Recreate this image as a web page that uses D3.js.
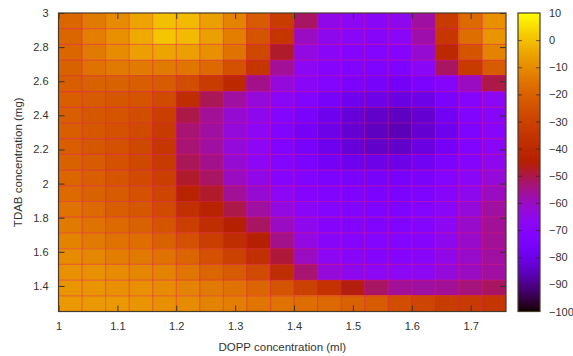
<!DOCTYPE html>
<html><head><meta charset="utf-8">
<script src="https://cdn.jsdelivr.net/npm/d3@7"></script>
<style>body{margin:0;background:#fff} text{font-family:"Liberation Sans",Arial,Helvetica,sans-serif;}</style>
</head><body><svg id="c" width="573" height="356"></svg>
<script>
// DOPP concentration (ml): cell centres, left to right
const doppValues = [1.02,1.06,1.10,1.14,1.18,1.22,1.26,1.30,1.34,1.38,1.42,1.46,1.50,1.54,1.58,1.62,1.66,1.70,1.74];
// TDAB concentration (mg): cell centres, top to bottom
const tdabValues = [2.954,2.862,2.770,2.678,2.586,2.493,2.401,2.309,2.217,2.125,2.033,1.941,1.849,1.757,1.664,1.572,1.480,1.388,1.296];
// values, one row per TDAB value (top row first), one column per DOPP value
const zRows = [
  [-19,-14,-10,-5,0,-1,-6,-12,-22,-32,-52,-65,-67,-68,-66,-57,-33,-18,-9],
  [-19,-13,-9,-4,1,-1,-6,-13,-24,-35,-60,-66,-68,-69,-68,-58,-34,-17,-8],
  [-19,-14,-10,-6,-5,-6,-9,-16,-28,-48,-64,-68,-70,-71,-70,-62,-40,-24,-12],
  [-20,-16,-14,-14,-14,-15,-18,-25,-35,-56,-67,-70,-72,-73,-73,-68,-52,-33,-22],
  [-21,-20,-20,-21,-22,-26,-32,-40,-55,-63,-68,-71,-74,-76,-77,-74,-70,-60,-50],
  [-21,-22,-23,-24,-27,-38,-51,-57,-63,-68,-72,-76,-79,-80,-81,-80,-75,-70,-67],
  [-21,-23,-24,-26,-31,-50,-56,-62,-66,-71,-75,-79,-82,-84,-85,-83,-78,-72,-69],
  [-21,-23,-25,-27,-33,-53,-57,-63,-67,-72,-77,-80,-83,-85,-86,-83,-79,-73,-69],
  [-21,-23,-25,-28,-34,-53,-57,-63,-67,-72,-76,-79,-82,-84,-84,-81,-77,-72,-68],
  [-20,-22,-25,-28,-33,-51,-55,-62,-67,-71,-74,-77,-79,-80,-80,-78,-74,-70,-66],
  [-19,-21,-24,-27,-31,-48,-52,-60,-65,-70,-72,-74,-75,-76,-76,-75,-71,-68,-63],
  [-18,-20,-22,-25,-29,-43,-48,-56,-62,-67,-70,-72,-73,-74,-74,-73,-69,-66,-60],
  [-16,-18,-21,-23,-27,-37,-43,-50,-57,-64,-68,-71,-72,-73,-73,-71,-68,-63,-57],
  [-14,-16,-18,-20,-24,-31,-38,-45,-52,-60,-66,-70,-71,-72,-72,-71,-67,-61,-56],
  [-12,-14,-16,-17,-20,-25,-31,-38,-45,-55,-64,-69,-70,-71,-71,-70,-66,-61,-56],
  [-10,-11,-13,-14,-16,-19,-25,-30,-37,-49,-60,-67,-69,-70,-70,-69,-65,-61,-57],
  [-9,-9,-10,-11,-12,-15,-19,-22,-27,-38,-53,-63,-66,-67,-67,-67,-63,-60,-57],
  [-8,-8,-9,-9,-10,-12,-14,-16,-19,-24,-30,-36,-46,-52,-56,-57,-56,-54,-52],
  [-7,-7,-7,-8,-9,-10,-12,-13,-15,-16,-17,-18,-20,-22,-26,-29,-32,-33,-35]
];
const xTicks = [1,1.1,1.2,1.3,1.4,1.5,1.6,1.7];
const yTicks = [1.4,1.6,1.8,2,2.2,2.4,2.6,2.8,3];
const cbTicks = [10,0,-10,-20,-30,-40,-50,-60,-70,-80,-90,-100];

const svg = d3.select("#c");
const P = {left:58.5, right:506, top:13, bottom:311.5};
const xDom = [1,1.76], yDom = [1.25,3];
const x = d3.scaleLinear().domain(xDom).range([P.left,P.right]);
const y = d3.scaleLinear().domain(yDom).range([P.bottom,P.top]);
const norm = d3.scaleLinear().domain([-100,10]).range([0,1]).clamp(true);
function pal(t){
  const r=Math.sqrt(t), g=t*t*t, b=Math.max(0,Math.sin(2*Math.PI*t));
  return d3.rgb(r*255,g*255,b*255).toString();
}
const color = v => pal(norm(v));
// cell edges: midpoints between neighbouring centres, outer edges at the domain limits
function edges(c, lo, hi){
  const s = c.slice().sort((a,b)=>a-b);
  const e = [lo];
  for(let i=1;i<s.length;i++) e.push((s[i-1]+s[i])/2);
  e.push(hi);
  return {sorted:s, e};
}
const xe = edges(doppValues, xDom[0], xDom[1]);
const ye = edges(tdabValues, yDom[0], yDom[1]);
const xLo = v => xe.e[xe.sorted.indexOf(v)], xHi = v => xe.e[xe.sorted.indexOf(v)+1];
const yLo = v => ye.e[ye.sorted.indexOf(v)], yHi = v => ye.e[ye.sorted.indexOf(v)+1];

const cells = [];
zRows.forEach((row,i)=>row.forEach((v,j)=>cells.push({xv:doppValues[j], yv:tdabValues[i], v})));

const g = svg.append("g");
g.selectAll("rect.cell").data(cells).join("rect").attr("class","cell")
  .attr("x", d=>Math.floor(x(xLo(d.xv)))).attr("y", d=>Math.floor(y(yHi(d.yv))))
  .attr("width", d=>Math.ceil(x(xHi(d.xv)))-Math.floor(x(xLo(d.xv))))
  .attr("height", d=>Math.ceil(y(yLo(d.yv)))-Math.floor(y(yHi(d.yv))))
  .attr("fill", d=>color(d.v)).attr("shape-rendering","crispEdges");

// faint cell seams
const seam = "rgba(230,25,110,0.38)";
g.selectAll("line.vs").data(xe.e.slice(1,-1)).join("line").attr("class","vs")
  .attr("x1",d=>x(d)).attr("x2",d=>x(d)).attr("y1",P.top).attr("y2",P.bottom)
  .attr("stroke",seam).attr("stroke-width",1.2);
g.selectAll("line.hs").data(ye.e.slice(1,-1)).join("line").attr("class","hs")
  .attr("y1",d=>y(d)).attr("y2",d=>y(d)).attr("x1",P.left).attr("x2",P.right)
  .attr("stroke",seam).attr("stroke-width",1.2);

// axes
const tc = "#3a3030";
const fmt = d3.format("~g");
const ax = svg.append("g").attr("transform",`translate(0,${P.bottom})`)
  .call(d3.axisBottom(x).tickValues(xTicks).tickFormat(fmt).tickSizeInner(-6).tickSizeOuter(0).tickPadding(11));
const axT = svg.append("g").attr("transform",`translate(0,${P.top})`)
  .call(d3.axisTop(x).tickValues(xTicks).tickFormat("").tickSizeInner(-6).tickSizeOuter(0));
const ay = svg.append("g").attr("transform",`translate(${P.left},0)`)
  .call(d3.axisLeft(y).tickValues(yTicks).tickFormat(fmt).tickSizeInner(-6).tickSizeOuter(0).tickPadding(10));
const ayR = svg.append("g").attr("transform",`translate(${P.right},0)`)
  .call(d3.axisRight(y).tickValues(yTicks).tickFormat("").tickSizeInner(-6).tickSizeOuter(0));
[ax,axT,ay,ayR].forEach(a=>{
  a.select(".domain").remove();
  a.selectAll("line").attr("stroke",tc).attr("stroke-width",1);
  a.selectAll("text").attr("fill","#333").attr("font-size",11).attr("font-family",'"Liberation Sans",Arial,sans-serif');
});
svg.append("rect").attr("x",P.left).attr("y",P.top).attr("width",P.right-P.left).attr("height",P.bottom-P.top)
  .attr("fill","none").attr("stroke","#4a3a2a").attr("stroke-width",1.2);

svg.append("text").attr("x",(P.left+P.right)/2).attr("y",351).attr("text-anchor","middle")
  .attr("font-size",11.5).attr("fill","#333").text("DOPP concentration (ml)");
svg.append("text").attr("transform",`translate(22,${(P.top+P.bottom)/2}) rotate(-90)`).attr("text-anchor","middle")
  .attr("font-size",11.5).attr("fill","#333").text("TDAB concentration (mg)");

// colour bar
const CB = {left:518, right:540};
const cy = d3.scaleLinear().domain([-100,10]).range([P.bottom,P.top]);
const defs = svg.append("defs");
const grad = defs.append("linearGradient").attr("id","cbg").attr("x1",0).attr("y1",1).attr("x2",0).attr("y2",0);
grad.selectAll("stop").data(d3.range(0,1.0001,0.01)).join("stop")
  .attr("offset",d=>d).attr("stop-color",d=>pal(d));
svg.append("rect").attr("x",CB.left).attr("y",P.top).attr("width",CB.right-CB.left).attr("height",P.bottom-P.top)
  .attr("fill","url(#cbg)").attr("stroke","#4a3a2a").attr("stroke-width",1.2);
const cbA = svg.append("g").attr("transform",`translate(${CB.right},0)`)
  .call(d3.axisRight(cy).tickValues(cbTicks).tickFormat(fmt).tickSizeInner(-4).tickSizeOuter(0).tickPadding(9));
const cbL = svg.append("g").attr("transform",`translate(${CB.left},0)`)
  .call(d3.axisLeft(cy).tickValues(cbTicks.slice(1,-1)).tickFormat("").tickSizeInner(-4).tickSizeOuter(0));
[cbA,cbL].forEach(a=>{
  a.select(".domain").remove();
  a.selectAll("line").attr("stroke","rgba(60,30,30,0.7)");
  a.selectAll("text").attr("fill","#333").attr("font-size",11).attr("font-family",'"Liberation Sans",Arial,sans-serif');
});
cbA.selectAll(".tick").filter(d=>d===10||d===-100).select("line").remove();
</script>
</body></html>
